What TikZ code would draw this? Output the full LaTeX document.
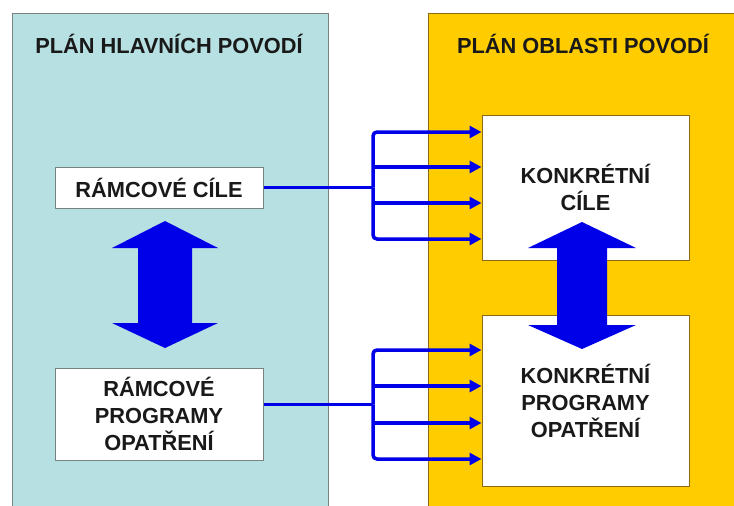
\documentclass[tikz,border=0pt]{standalone}
\usepackage{fontspec}
\setmainfont{Liberation Sans}
\usetikzlibrary{arrows.meta}
\definecolor{panelcyan}{RGB}{182,224,226}
\definecolor{panelgold}{RGB}{255,204,0}
\definecolor{arrowblue}{RGB}{0,0,232}
\definecolor{greyedge}{RGB}{120,130,130}
\definecolor{goldedge}{RGB}{140,105,20}
\definecolor{inktext}{RGB}{25,25,25}

\tikzset{
  labeltext/.style={font=\fontsize{21.8}{27}\selectfont\bfseries, text=inktext, align=center},
  panel/.style={inner sep=0pt, line width=0.8pt},
  whitebox/.style={labeltext, fill=white, inner sep=0pt, line width=1pt},
  fanline/.style={draw=arrowblue, line width=3.5pt, rounded corners=4pt},
  fanarrow/.style={fanline, -{Triangle[length=12pt,width=12pt]}}
}

\begin{document}
\begin{tikzpicture}[x=1pt,y=-1pt]
        \useasboundingbox (0,0) rectangle (734,506);
        \clip (0,0) rectangle (734,506);
        % panels
        \node[panel, draw=greyedge, fill=panelcyan, minimum width=316pt, minimum height=507pt] (hlavni) at (170,266.5) {};
        \node[panel, draw=goldedge, fill=panelgold, minimum width=322pt, minimum height=507pt] (oblast) at (589,266.5) {};
        \node[labeltext] (titleL) at (169,44) {PLÁN HLAVNÍCH POVODÍ};
        \node[labeltext] (titleR) at (583,44) {PLÁN OBLASTI POVODÍ};
        % boxes
        \node[whitebox, draw=greyedge, minimum width=208pt, minimum height=41pt] (ramcil) at (159,187.5) {RÁMCOVÉ CÍLE};
        \node[whitebox, draw=greyedge, minimum width=208pt, minimum height=92pt] (ramprog) at (159,414) {RÁMCOVÉ\\PROGRAMY\\OPATŘENÍ};
        \node[whitebox, draw=goldedge, minimum width=207pt, minimum height=145pt] (konkcil) at (585.5,187.5) {KONKRÉTNÍ\\CÍLE};
        \node[whitebox, draw=goldedge, minimum width=207pt, minimum height=171pt] (konkprog) at (585.5,401) {KONKRÉTNÍ\\PROGRAMY\\OPATŘENÍ};
        % big double arrows
        \fill[arrowblue] (165,221) -- (218,248) -- (192,248) -- (192,323) -- (218,323) -- (165,348)
              -- (112,323) -- (138,323) -- (138,248) -- (112,248) -- cycle;
        \fill[arrowblue] (582,222) -- (636,248) -- (607,248) -- (607,325) -- (636,325) -- (582,349)
              -- (528,325) -- (557,325) -- (557,248) -- (528,248) -- cycle;
        % upper fan
        \coordinate (ta) at (373,132);
        \coordinate (tm) at (373,187.5);
        \coordinate (tb) at (373,167);
        \coordinate (tc) at (373,203);
        \coordinate (td) at (373,239);
        \draw[fanline] (ramcil.east) -- (tm);
        \draw[fanarrow] (tm) |- (konkcil.west |- ta);
        \draw[fanarrow] (tm) |- (konkcil.west |- td);
        \draw[fanarrow] (tb) -- (konkcil.west |- tb);
        \draw[fanarrow] (tc) -- (konkcil.west |- tc);
        % lower fan
        \coordinate (ba) at (373,350);
        \coordinate (bm) at (373,404.5);
        \coordinate (bb) at (373,386);
        \coordinate (bc) at (373,423);
        \coordinate (bd) at (373,459);
        \draw[fanline] (ramprog.east |- bm) -- (bm);
        \draw[fanarrow] (bm) |- (konkprog.west |- ba);
        \draw[fanarrow] (bm) |- (konkprog.west |- bd);
        \draw[fanarrow] (bb) -- (konkprog.west |- bb);
        \draw[fanarrow] (bc) -- (konkprog.west |- bc);
    \end{tikzpicture}
\end{document}
